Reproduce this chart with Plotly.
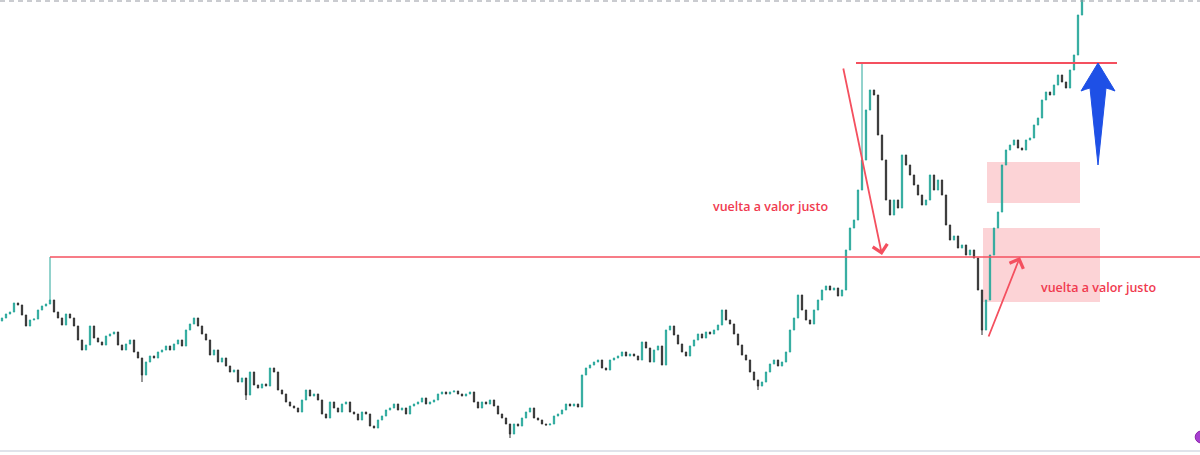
import plotly.graph_objects as go

# ---------------- data (price units) ----------------
first_open = 134
closes = [
    137, 141, 143, 152, 150, 140, 129, 135, 136, 145,
    149, 151, 155, 143, 137, 130, 141, 137, 129, 115,
    105, 110, 129, 117, 113, 110, 119, 121, 123, 110,
    105, 111, 115, 103, 97, 80, 93, 99, 97, 103,
    105, 109, 105, 111, 115, 109, 125, 131, 137, 129,
    121, 115, 100, 105, 93, 97, 89, 83, 85, 73,
    77, 60, 83, 70, 67, 71, 69, 87, 83, 65,
    61, 53, 49, 47, 43, 55, 65, 59, 61, 55,
    41, 37, 53, 47, 43, 51, 53, 43, 41, 35,
    43, 41, 29, 27, 35, 39, 45, 47, 51, 45,
    47, 41, 49, 51, 53, 57, 51, 53, 55, 61,
    63, 61, 63, 64, 61, 59, 61, 63, 53, 47,
    53, 51, 55, 49, 41, 37, 31, 21, 31, 29,
    37, 43, 47, 37, 35, 31, 30, 31, 39, 41,
    45, 51, 49, 51, 48, 80, 87, 90, 93, 95,
    87, 85, 95, 97, 99, 103, 99, 101, 99, 95,
    113, 107, 93, 105, 109, 90, 125, 129, 120, 111,
    103, 99, 109, 115, 121, 117, 123, 121, 125, 130,
    145, 135, 131, 121, 110, 100, 95, 83, 75, 69,
    73, 83, 91, 95, 89, 93, 103, 125, 137, 160,
    145, 135, 131, 145, 155, 165, 169, 165, 167, 159,
    165, 205, 227, 235, 265, 295, 345, 365, 360, 320,
    295, 255, 240, 255, 247, 300, 290, 280, 270, 260,
    250, 255, 280, 265, 275, 260, 230, 215, 219, 207,
    210, 200, 205, 197, 165, 125, 155, 200, 227, 243,
    290, 305, 310, 315, 307, 305, 315, 317, 330, 337,
    355, 363, 360, 370, 380, 373, 367, 385, 400, 440,
    465, 460,
]
# long wicks visible in the picture: (candle index, price)
wick_highs = [(12, 198), (215, 392)]
wick_lows = [(35, 73), (61, 55), (127, 17), (189, 65), (245, 120)]

# reference levels / annotation anchors (price units, candle index)
support_level = 198
high_level = 392
label_text = "vuelta a valor justo"

# ---------------- build OHLC ----------------
n = len(closes)
idx = list(range(n))
opens = [first_open] + closes[:-1]
highs = [max(o, c) for o, c in zip(opens, closes)]
lows = [min(o, c) for o, c in zip(opens, closes)]
for i, v in wick_highs:
    highs[i] = v
for i, v in wick_lows:
    lows[i] = v

fig = go.Figure()
fig.add_trace(go.Candlestick(
    x=idx, open=opens, high=highs, low=lows, close=closes,
    increasing=dict(line=dict(color="#26a69a", width=1), fillcolor="#8fd6cc"),
    decreasing=dict(line=dict(color="#2e2e2e", width=1), fillcolor="#7a7a7a"),
    showlegend=False, hoverinfo="skip",
))

RED = "#f4505f"
shapes = []
# pink zones (below candles)
shapes.append(dict(type="rect", xref="x", yref="y", x0=246.25, x1=269.5, y0=252, y1=293,
                   fillcolor="rgba(242,54,69,0.22)", line=dict(width=0), layer="below"))
shapes.append(dict(type="rect", xref="x", yref="y", x0=245.25, x1=274.5, y0=153, y1=227,
                   fillcolor="rgba(242,54,69,0.22)", line=dict(width=0), layer="below"))
# horizontal levels
shapes.append(dict(type="line", xref="x", yref="y", x0=12, x1=300, y0=support_level, y1=support_level,
                   line=dict(color=RED, width=1.6)))
shapes.append(dict(type="line", xref="x", yref="y", x0=213.5, x1=278.75, y0=high_level, y1=high_level,
                   line=dict(color=RED, width=2)))
# current price dashed line at top
shapes.append(dict(type="line", xref="paper", yref="y", x0=0, x1=1, y0=454, y1=454,
                   line=dict(color="#9598a1", width=1, dash="5px,4px")))
# blue arrow
shapes.append(dict(type="path", xref="x", yref="y",
                   path="M274,392 L278.25,364 Q277,366 276,367 L274,290 L272,367 Q271,366 269.75,364 Z",
                   fillcolor="#1e50e6", line=dict(color="#1e50e6", width=1)))
# purple marker at bottom-right corner
shapes.append(dict(type="circle", xref="x", yref="y", x0=298.3, x1=301.3, y0=12, y1=24,
                   fillcolor="#a63fd0", line=dict(color="#8e24aa", width=1)))

annotations = [
    dict(x=220, y=200, ax=210.25, ay=388, xref="x", yref="y", axref="x", ayref="y",
         text="", showarrow=True, arrowhead=4, arrowsize=1.6, arrowwidth=1.8, arrowcolor=RED),
    dict(x=254.5, y=198, ax=246.5, ay=117, xref="x", yref="y", axref="x", ayref="y",
         text="", showarrow=True, arrowhead=4, arrowsize=1.6, arrowwidth=1.8, arrowcolor=RED),
    dict(x=192, y=249, xref="x", yref="y", text=label_text, showarrow=False,
         font=dict(family="Open Sans", size=12.5, color="#f03a4f", weight=600)),
    dict(x=274, y=168, xref="x", yref="y", text=label_text, showarrow=False,
         font=dict(family="Open Sans", size=12.5, color="#f03a4f", weight=600)),
]

fig.update_layout(
    width=1200, height=455,
    margin=dict(l=0, r=0, t=0, b=5),
    paper_bgcolor="white", plot_bgcolor="white",
    shapes=shapes, annotations=annotations,
    showlegend=False,
    boxgap=0.55,
    xaxis=dict(range=[-0.5, 299.5], rangeslider=dict(visible=False), showgrid=False,
               zeroline=False, showticklabels=False, ticks="",
               showline=True, linecolor="#e0e3eb", linewidth=2),
    yaxis=dict(range=[5, 455], showgrid=False, zeroline=False, showticklabels=False, ticks=""),
)

fig.write_html("out.html", config={"displayModeBar": False},
               post_script="document.body.style.margin='0';document.body.style.overflow='hidden';")
